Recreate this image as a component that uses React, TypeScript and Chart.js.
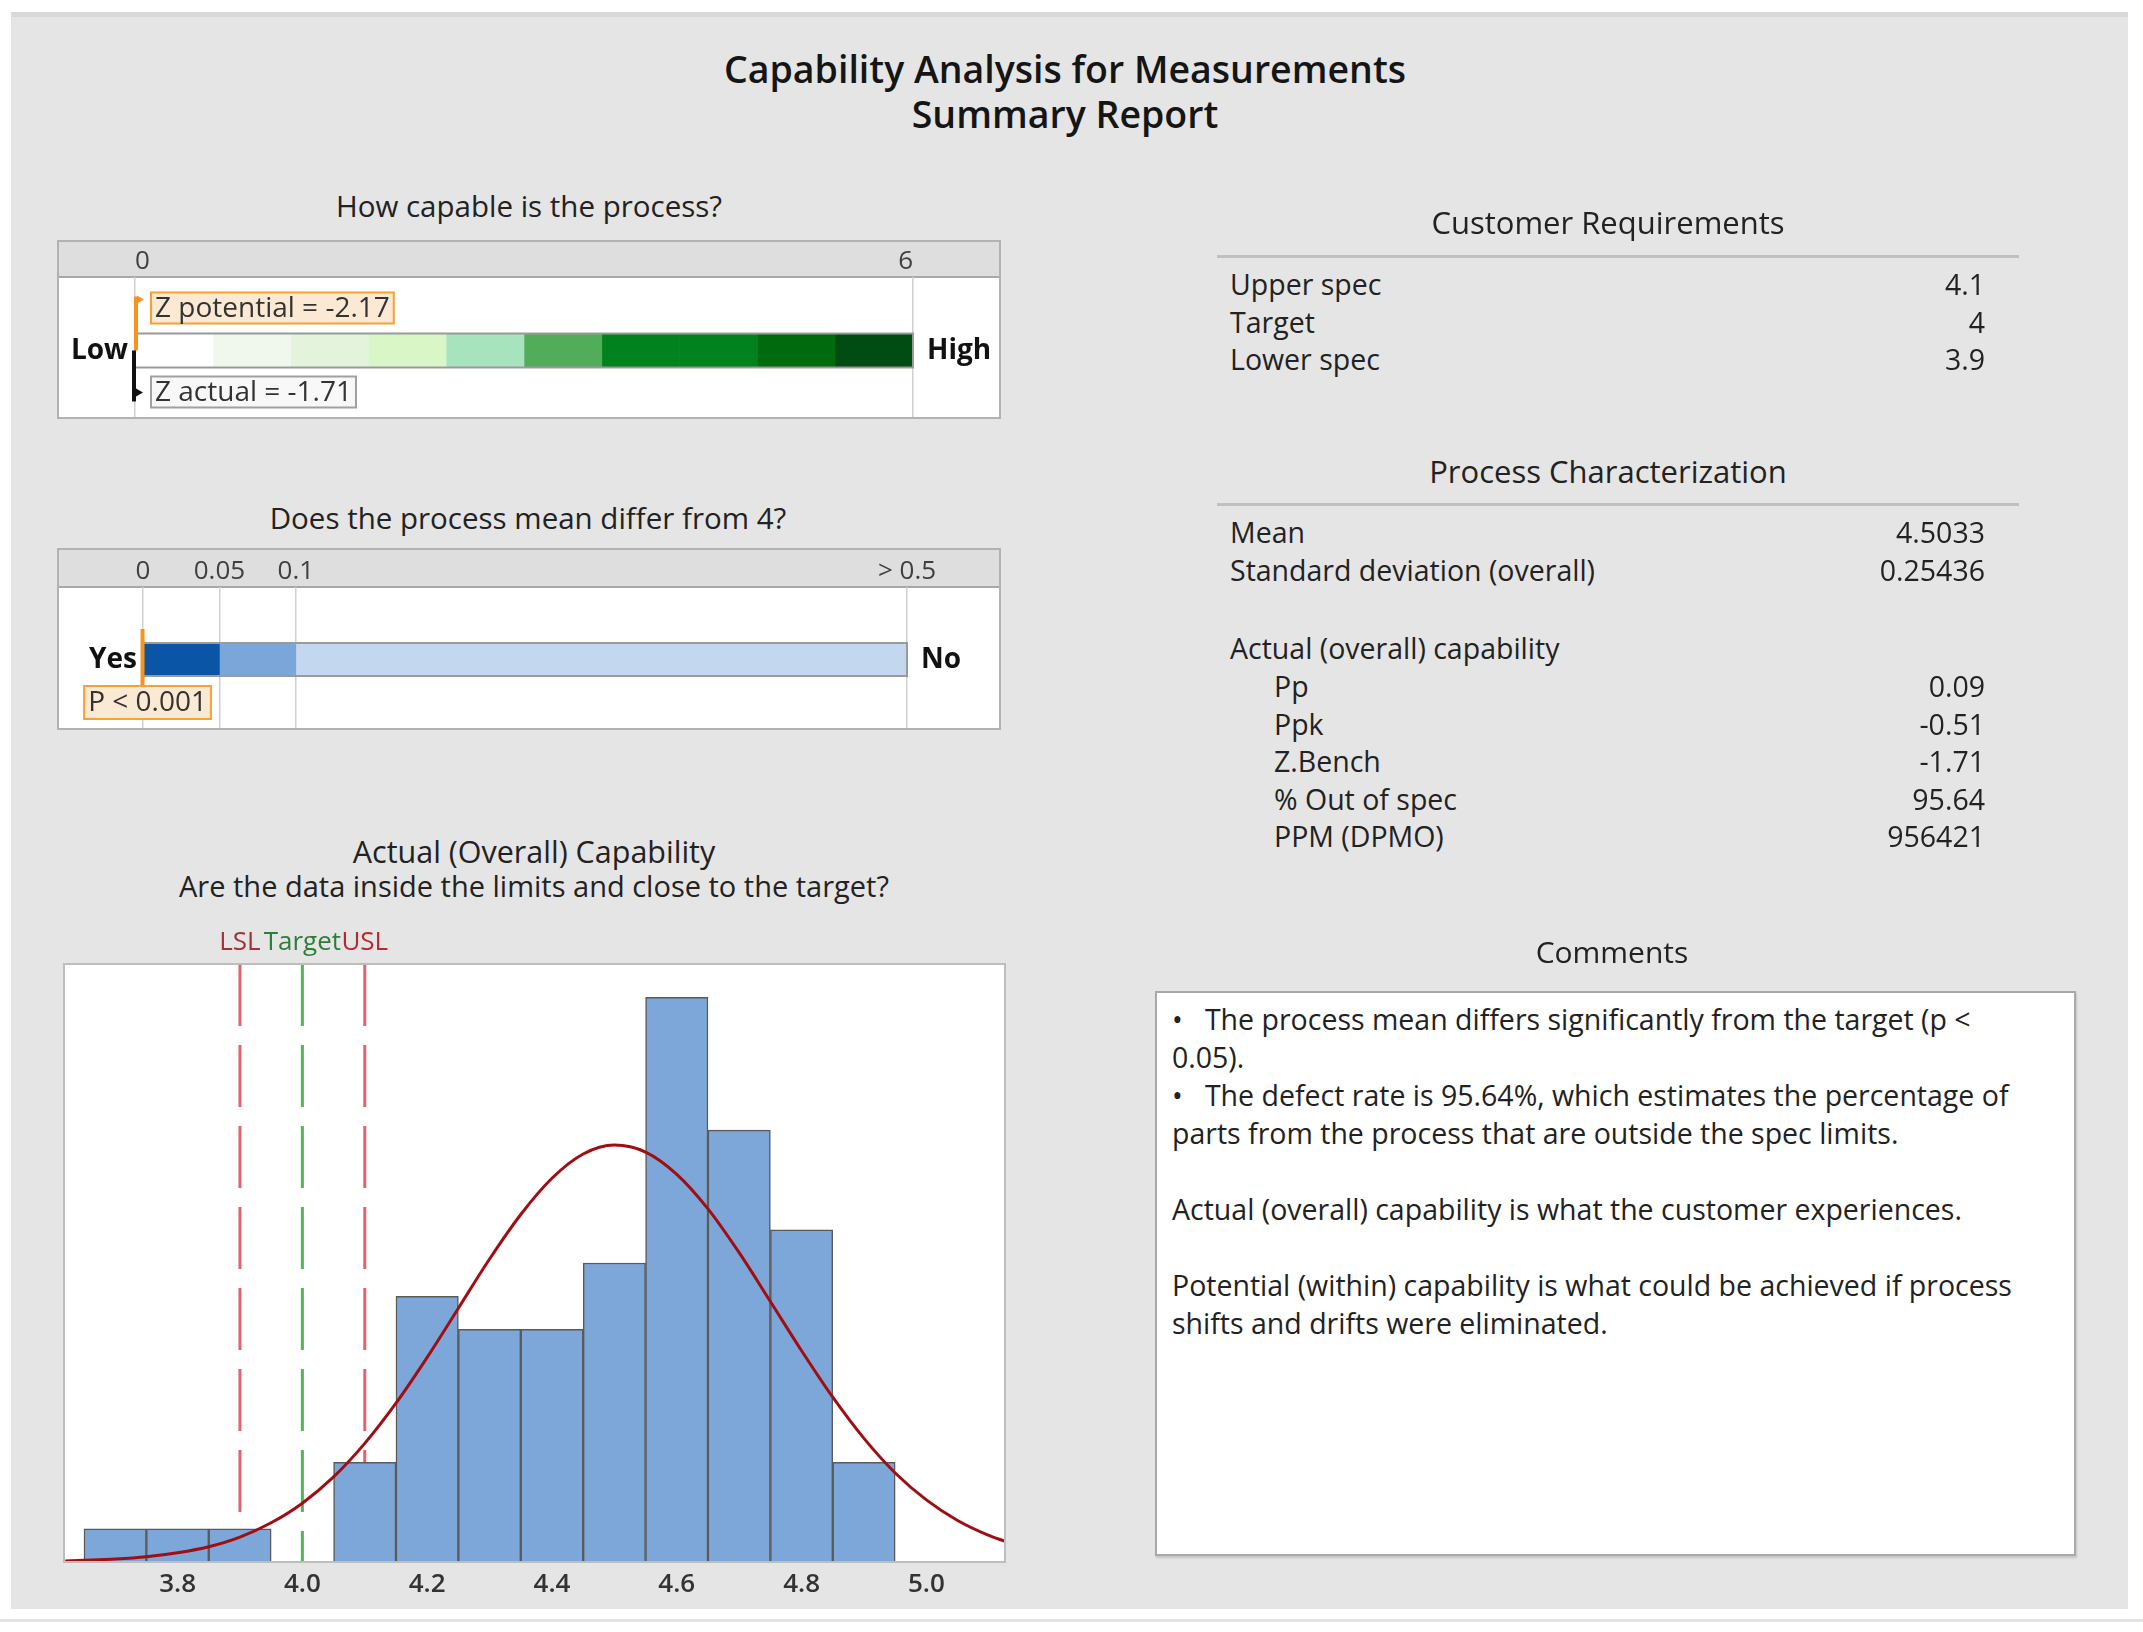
import React, { useEffect, useRef } from 'react';
import { Chart, registerables } from 'chart.js';
Chart.register(...registerables);

const FONT = "'Open Sans', 'Noto Sans', sans-serif";

// ---------------- DATA ----------------
const gaugeTicks = [0, 6];
const gaugeEdges = [0, 0.6, 1.2, 1.8, 2.4, 3.0, 3.6, 4.2, 4.8, 5.4, 6.0];
const gaugeColors = ['#ffffff', '#f0f8ee', '#e3f3dc', '#d9f6c6', '#a7e3bd', '#52ad5b', '#00821f', '#00821f', '#006b0e', '#004c12'];
const zPotential = -2.17;
const zActual = -1.71;

const pTicks = [0, 0.05, 0.1, 0.5];
const pTickLabels = ['0', '0.05', '0.1', '> 0.5'];
const pEdges = [0, 0.05, 0.1, 0.5];
const pColors = ['#0a55a6', '#7aa6da', '#c3d7ef'];
const pValue = 0.001;
const pLabel = 'P < 0.001';

const binCenters = [3.7, 3.8, 3.9, 4.0, 4.1, 4.2, 4.3, 4.4, 4.5, 4.6, 4.7, 4.8, 4.9];
const binCounts = [1, 1, 1, 0, 3, 8, 7, 7, 9, 17, 13, 10, 3];
const curveX = [3.62, 3.65, 3.7, 3.75, 3.8, 3.85, 3.9, 3.95, 4.0, 4.05, 4.1, 4.15, 4.2, 4.25, 4.3, 4.35, 4.4, 4.45, 4.5, 4.55, 4.6, 4.65, 4.7, 4.75, 4.8, 4.85, 4.9, 4.95, 5.0, 5.05, 5.1, 5.125];
const curveY = [0.03, 0.05, 0.09, 0.16, 0.28, 0.46, 0.75, 1.18, 1.77, 2.56, 3.57, 4.78, 6.16, 7.64, 9.12, 10.46, 11.55, 12.28, 12.55, 12.34, 11.67, 10.63, 9.31, 7.84, 6.36, 4.96, 3.72, 2.68, 1.87, 1.25, 0.8, 0.63];
const specNames = ['LSL', 'Target', 'USL'];
const specValues = [3.9, 4.0, 4.1];
const histTicks = [3.8, 4.0, 4.2, 4.4, 4.6, 4.8, 5.0];
const histXRange = [3.618, 5.126];
const histYMax = 18;

const reqLabels = ['Upper spec', 'Target', 'Lower spec'];
const reqValues = ['4.1', '4', '3.9'];
const charLabels = ['Mean', 'Standard deviation (overall)'];
const charValues = ['4.5033', '0.25436'];
const capHeading = 'Actual (overall) capability';
const capLabels = ['Pp', 'Ppk', 'Z.Bench', '% Out of spec', 'PPM (DPMO)'];
const capValues = ['0.09', '-0.51', '-1.71', '95.64', '956421'];
const commentLines = [
  '•   The process mean differs significantly from the target (p <',
  '0.05).',
  '•   The defect rate is 95.64%, which estimates the percentage of',
  'parts from the process that are outside the spec limits.',
  '',
  'Actual (overall) capability is what the customer experiences.',
  '',
  'Potential (within) capability is what could be achieved if process',
  'shifts and drifts were eliminated.',
];

// ---------------- helpers ----------------
function drawFrame(chart: any, boxH: number) {
  const { ctx, width, chartArea } = chart;
  ctx.save();
  ctx.fillStyle = '#ffffff';
  ctx.fillRect(0, 0, width, boxH);
  ctx.fillStyle = '#dedede';
  ctx.fillRect(0, 0, width, chartArea.top);
  ctx.strokeStyle = '#a8a8a8';
  ctx.lineWidth = 2;
  ctx.beginPath();
  ctx.moveTo(0, chartArea.top);
  ctx.lineTo(width, chartArea.top);
  ctx.stroke();
  ctx.restore();
}

function drawBorder(chart: any, boxH: number) {
  const { ctx, width, height } = chart;
  ctx.save();
  if (height > boxH) ctx.clearRect(0, boxH, width, height - boxH);
  ctx.strokeStyle = '#b2b2b2';
  ctx.lineWidth = 2;
  ctx.strokeRect(1, 1, width - 2, boxH - 2);
  ctx.restore();
}

function T(props: { x: number; y: number; text: string; size?: number; weight?: number; align?: string; color?: string }) {
  const { x, y, text, size = 28.5, weight = 400, align = 'left', color = '#222' } = props;
  const lh = Math.round(size * 1.4);
  const style: any = {
    position: 'absolute', top: y - lh / 2, fontSize: size, fontWeight: weight,
    lineHeight: lh + 'px', whiteSpace: 'pre', color, fontFamily: FONT,
  };
  if (align === 'left') style.left = x;
  else if (align === 'right') { style.left = x - 1500; style.width = 1500; style.textAlign = 'right'; }
  else { style.left = x - 1000; style.width = 2000; style.textAlign = 'center'; }
  return <div style={style}>{text}</div>;
}

// ---------------- Gauge ----------------
function GaugeChart() {
  const ref = useRef<HTMLCanvasElement>(null);
  const boxH = 179;
  useEffect(() => {
    const plugin = {
      id: 'gaugeDecor',
      beforeDraw: (chart: any) => drawFrame(chart, boxH),
      afterDatasetsDraw: (chart: any) => {
        const { ctx, chartArea } = chart;
        const xs = chart.scales.x;
        const el: any = chart.getDatasetMeta(0).data[0];
        const cy = el.y, th = el.height;
        const top = cy - th / 2, bot = cy + th / 2;
        const left = xs.getPixelForValue(gaugeEdges[0]);
        const right = xs.getPixelForValue(gaugeEdges[gaugeEdges.length - 1]);
        ctx.save();
        ctx.strokeStyle = '#9a9a9a';
        ctx.lineWidth = 2;
        ctx.strokeRect(left, top, right - left, th);
        // Low / High
        ctx.font = `bold 28px ${FONT}`;
        ctx.fillStyle = '#111';
        ctx.textBaseline = 'middle';
        ctx.textAlign = 'right';
        ctx.fillText('Low', chartArea.left - 7, cy + 1);
        ctx.textAlign = 'left';
        ctx.fillText('High', chartArea.right + 14, cy + 1);
        // markers
        const mp = xs.getPixelForValue(Math.max(xs.min, zPotential));
        const ma = xs.getPixelForValue(Math.max(xs.min, zActual));
        ctx.font = `28px ${FONT}`;
        const t1 = `Z potential = ${zPotential.toFixed(2)}`;
        const t2 = `Z actual = ${zActual.toFixed(2)}`;
        const w1 = ctx.measureText(t1).width + 8;
        const w2 = ctx.measureText(t2).width + 8;
        const bh = 31;
        const by1 = top - 41;
        const by2 = bot + 9;
        // orange
        ctx.strokeStyle = '#f7941d';
        ctx.lineWidth = 4;
        ctx.beginPath();
        ctx.moveTo(mp + 1, by1 + 4);
        ctx.lineTo(mp + 1, cy);
        ctx.stroke();
        ctx.fillStyle = '#f7941d';
        ctx.beginPath();
        ctx.moveTo(mp + 2, by1 + 3); ctx.lineTo(mp + 9, by1 + 7); ctx.lineTo(mp + 2, by1 + 11); ctx.closePath(); ctx.fill();
        ctx.fillStyle = '#fce9d4';
        ctx.fillRect(mp + 16, by1, w1, bh);
        ctx.strokeStyle = '#f5a133';
        ctx.lineWidth = 2;
        ctx.strokeRect(mp + 16, by1, w1, bh);
        ctx.fillStyle = '#333';
        ctx.textAlign = 'left';
        ctx.fillText(t1, mp + 20, by1 + bh / 2 + 1);
        // black
        ctx.strokeStyle = '#111';
        ctx.lineWidth = 4;
        ctx.beginPath();
        ctx.moveTo(ma - 1, cy);
        ctx.lineTo(ma - 1, by2 + bh - 6);
        ctx.stroke();
        ctx.fillStyle = '#111';
        ctx.beginPath();
        ctx.moveTo(ma + 1, by2 + 12); ctx.lineTo(ma + 8, by2 + 16); ctx.lineTo(ma + 1, by2 + 20); ctx.closePath(); ctx.fill();
        ctx.fillStyle = '#f8f8f8';
        ctx.fillRect(mp + 16, by2, w2, bh);
        ctx.strokeStyle = '#a0a0a0';
        ctx.lineWidth = 2;
        ctx.strokeRect(mp + 16, by2, w2, bh);
        ctx.fillStyle = '#333';
        ctx.fillText(t2, mp + 20, by2 + bh / 2 + 1);
        ctx.restore();
      },
      afterDraw: (chart: any) => drawBorder(chart, boxH),
    };
    const chart = new Chart(ref.current as HTMLCanvasElement, {
      type: 'bar',
      data: {
        labels: ['capability'],
        datasets: gaugeColors.map((c, i) => ({
          data: [[gaugeEdges[i], gaugeEdges[i + 1]]],
          backgroundColor: c,
          borderWidth: 0,
          barThickness: 34,
          grouped: false,
        })) as any,
      },
      options: {
        indexAxis: 'y',
        animation: false,
        responsive: false,
        layout: { padding: { left: 78, right: 88, top: 0, bottom: 1 } },
        scales: {
          x: {
            type: 'linear', position: 'top', min: gaugeTicks[0], max: gaugeTicks[gaugeTicks.length - 1],
            afterBuildTicks: (s: any) => { s.ticks = gaugeTicks.map((v) => ({ value: v })); },
            afterFit: (s: any) => { s.height = 37; },
            grid: { color: '#d0d0d0', lineWidth: 1.5, drawTicks: false },
            border: { display: false },
            ticks: { font: { family: FONT, size: 26 }, color: '#404040', padding: 0, autoSkip: false, maxRotation: 0, align: 'inner' },
          },
          y: { display: false },
        },
        plugins: { legend: { display: false }, tooltip: { enabled: false } },
      } as any,
      plugins: [plugin],
    });
    return () => chart.destroy();
  }, []);
  return <canvas ref={ref} width={944} height={185} style={{ position: 'absolute', left: 57, top: 240, width: 944, height: 185 }} />;
}

// ---------------- P-value bar ----------------
function PChart() {
  const ref = useRef<HTMLCanvasElement>(null);
  const boxH = 182;
  useEffect(() => {
    const plugin = {
      id: 'pDecor',
      beforeDraw: (chart: any) => drawFrame(chart, boxH),
      afterDatasetsDraw: (chart: any) => {
        const { ctx, chartArea } = chart;
        const xs = chart.scales.x;
        const el: any = chart.getDatasetMeta(0).data[0];
        const cy = el.y, th = el.height;
        const top = cy - th / 2, bot = cy + th / 2;
        const left = xs.getPixelForValue(pEdges[0]);
        const right = xs.getPixelForValue(pEdges[pEdges.length - 1]);
        ctx.save();
        ctx.strokeStyle = '#9a9a9a';
        ctx.lineWidth = 2;
        ctx.strokeRect(left, top, right - left, th);
        ctx.font = `bold 28px ${FONT}`;
        ctx.fillStyle = '#111';
        ctx.textBaseline = 'middle';
        ctx.textAlign = 'right';
        ctx.fillText('Yes', chartArea.left - 6, cy + 1);
        ctx.textAlign = 'left';
        ctx.fillText('No', chartArea.right + 14, cy + 1);
        const mx = xs.getPixelForValue(pValue);
        ctx.font = `28px ${FONT}`;
        const w = ctx.measureText(pLabel).width + 8;
        const bh = 33;
        const by = bot + 10;
        ctx.strokeStyle = '#f7941d';
        ctx.lineWidth = 4;
        ctx.beginPath();
        ctx.moveTo(mx - 2, top - 14);
        ctx.lineTo(mx - 2, by + 2);
        ctx.stroke();
        const bx = mx + 3 - w / 2;
        ctx.fillStyle = '#fce9d4';
        ctx.fillRect(bx, by, w, bh);
        ctx.strokeStyle = '#f5a133';
        ctx.lineWidth = 2;
        ctx.strokeRect(bx, by, w, bh);
        ctx.fillStyle = '#333';
        ctx.fillText(pLabel, bx + 4, by + bh / 2 + 1);
        ctx.restore();
      },
      afterDraw: (chart: any) => drawBorder(chart, boxH),
    };
    const chart = new Chart(ref.current as HTMLCanvasElement, {
      type: 'bar',
      data: {
        labels: ['p'],
        datasets: pColors.map((c, i) => ({
          data: [[pEdges[i], pEdges[i + 1]]],
          backgroundColor: c,
          borderWidth: 0,
          barThickness: 33,
          grouped: false,
        })) as any,
      },
      options: {
        indexAxis: 'y',
        animation: false,
        responsive: false,
        layout: { padding: { left: 86, right: 94, top: 0, bottom: 0 } },
        scales: {
          x: {
            type: 'linear', position: 'top', min: pTicks[0], max: pTicks[pTicks.length - 1],
            afterBuildTicks: (s: any) => { s.ticks = pTicks.map((v) => ({ value: v })); },
            afterFit: (s: any) => { s.height = 39; },
            grid: { color: '#d0d0d0', lineWidth: 1.5, drawTicks: false },
            border: { display: false },
            ticks: {
              font: { family: FONT, size: 26 }, color: '#404040', padding: 0, autoSkip: false, maxRotation: 0,
              callback: (_v: any, i: number) => pTickLabels[i],
            },
          },
          y: { display: false },
        },
        plugins: { legend: { display: false }, tooltip: { enabled: false } },
      } as any,
      plugins: [plugin],
    });
    return () => chart.destroy();
  }, []);
  return <canvas ref={ref} width={944} height={184} style={{ position: 'absolute', left: 57, top: 548, width: 944, height: 184 }} />;
}

// ---------------- Histogram ----------------
function HistChart() {
  const ref = useRef<HTMLCanvasElement>(null);
  useEffect(() => {
    const specColors = ['#e0646c', '#56b35a', '#e0646c'];
    const specTextColors = ['#a3303a', '#2e7d3a', '#b8282f'];
    const plugin = {
      id: 'histDecor',
      beforeDraw: (chart: any) => {
        const { ctx, chartArea } = chart;
        ctx.save();
        ctx.fillStyle = '#ffffff';
        ctx.fillRect(chartArea.left, chartArea.top, chartArea.right - chartArea.left, chartArea.bottom - chartArea.top);
        ctx.restore();
      },
      beforeDatasetsDraw: (chart: any) => {
        const { ctx, chartArea } = chart;
        const xs = chart.scales.x;
        ctx.save();
        ctx.lineWidth = 3;
        ctx.setLineDash([62, 19]);
        specValues.forEach((v, i) => {
          const px = xs.getPixelForValue(v);
          ctx.strokeStyle = specColors[i];
          ctx.beginPath();
          ctx.moveTo(px, chartArea.top);
          ctx.lineTo(px, chartArea.bottom);
          ctx.stroke();
        });
        ctx.restore();
      },
      afterDraw: (chart: any) => {
        const { ctx, chartArea } = chart;
        const xs = chart.scales.x;
        ctx.save();
        ctx.strokeStyle = '#bdbdbd';
        ctx.lineWidth = 2;
        ctx.strokeRect(chartArea.left, chartArea.top, chartArea.right - chartArea.left, chartArea.bottom - chartArea.top);
        ctx.font = `26px ${FONT}`;
        ctx.textAlign = 'center';
        ctx.textBaseline = 'middle';
        specValues.forEach((v, i) => {
          ctx.fillStyle = specTextColors[i];
          ctx.fillText(specNames[i], xs.getPixelForValue(v), chartArea.top - 21);
        });
        ctx.restore();
      },
    };
    const chart = new Chart(ref.current as HTMLCanvasElement, {
      type: 'bar',
      data: {
        datasets: [
          {
            type: 'line',
            data: curveX.map((x, i) => ({ x, y: curveY[i] })),
            borderColor: '#a00d12',
            borderWidth: 3,
            pointRadius: 0,
            tension: 0.4,
            cubicInterpolationMode: 'monotone',
            fill: false,
            order: 0,
          },
          {
            type: 'bar',
            data: binCenters.map((x, i) => ({ x, y: binCounts[i] })),
            backgroundColor: '#7da7d9',
            borderColor: '#5a5a5a',
            borderWidth: 1.5,
            barPercentage: 1,
            categoryPercentage: 1,
            order: 1,
          },
        ] as any,
      },
      options: {
        animation: false,
        responsive: false,
        layout: { padding: { left: 24, right: 25, top: 49, bottom: 0 } },
        scales: {
          x: {
            type: 'linear', min: histXRange[0], max: histXRange[1], offset: false,
            afterBuildTicks: (s: any) => { s.ticks = histTicks.map((v) => ({ value: v })); },
            afterFit: (s: any) => { s.height = 53; },
            grid: { display: false, drawTicks: false },
            border: { display: false },
            ticks: {
              font: { family: FONT, size: 26, weight: '600' }, color: '#333', padding: 7, autoSkip: false, maxRotation: 0,
              callback: (v: any) => Number(v).toFixed(1),
            },
          },
          y: { display: false, min: 0, max: histYMax },
        },
        plugins: { legend: { display: false }, tooltip: { enabled: false } },
      } as any,
      plugins: [plugin],
    });
    return () => chart.destroy();
  }, []);
  return <canvas ref={ref} width={990} height={700} style={{ position: 'absolute', left: 40, top: 915, width: 990, height: 700 }} />;
}

export default function App() {
  const rowH = 37.5;
  return (
    <div style={{ position: 'absolute', left: 0, top: 0, width: 2143, height: 1632, background: '#ffffff', overflow: 'hidden', fontFamily: FONT }}>
      <div style={{ position: 'absolute', left: 11, top: 12, width: 2117, height: 1597, background: '#e5e5e5', borderTop: '5px solid #d9d9d9', boxSizing: 'border-box' }} />
      <div style={{ position: 'absolute', left: 0, top: 1619, width: 2143, height: 3, background: '#e3e3e3' }} />

      <T x={1065} y={68} text="Capability Analysis for Measurements" size={37.5} weight={600} align="center" color="#151515" />
      <T x={1065} y={113} text="Summary Report" size={37.5} weight={600} align="center" color="#151515" />

      <T x={529} y={205} text="How capable is the process?" size={29.5} align="center" />
      <GaugeChart />

      <T x={528} y={517} text="Does the process mean differ from 4?" size={29.5} align="center" />
      <PChart />

      <T x={534} y={851} text="Actual (Overall) Capability" size={30.5} align="center" />
      <T x={534} y={885} text="Are the data inside the limits and close to the target?" size={29} align="center" />
      <HistChart />

      <T x={1608} y={222} text="Customer Requirements" size={31} align="center" />
      <div style={{ position: 'absolute', left: 1217, top: 255, width: 802, height: 3, background: '#c0c0c0' }} />
      {reqLabels.map((l, i) => <T key={'rl' + i} x={1230} y={284 + i * rowH} text={l} />)}
      {reqValues.map((v, i) => <T key={'rv' + i} x={1985} y={284 + i * rowH} text={v} align="right" />)}

      <T x={1608} y={471} text="Process Characterization" size={31} align="center" />
      <div style={{ position: 'absolute', left: 1217, top: 503, width: 802, height: 3, background: '#c0c0c0' }} />
      {charLabels.map((l, i) => <T key={'cl' + i} x={1230} y={532 + i * rowH} text={l} />)}
      {charValues.map((v, i) => <T key={'cv' + i} x={1985} y={532 + i * rowH} text={v} align="right" />)}
      <T x={1230} y={648} text={capHeading} />
      {capLabels.map((l, i) => <T key={'pl' + i} x={1274} y={686 + i * rowH} text={l} />)}
      {capValues.map((v, i) => <T key={'pv' + i} x={1985} y={686 + i * rowH} text={v} align="right" />)}

      <T x={1612} y={952} text="Comments" size={30} align="center" />
      <div style={{ position: 'absolute', left: 1155, top: 991, width: 921, height: 565, background: '#ffffff', border: '2px solid #a9a9a9', boxSizing: 'border-box', boxShadow: '1px 2px 2px rgba(0,0,0,0.15)' }} />
      {commentLines.map((l, i) => <T key={'c' + i} x={1172} y={1019 + i * 38} text={l} />)}
    </div>
  );
}
